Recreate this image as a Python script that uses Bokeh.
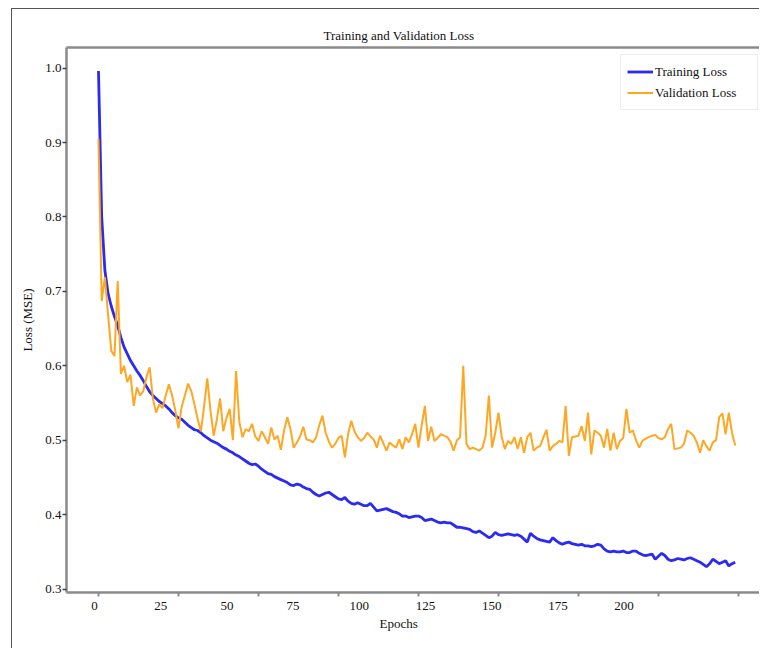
from bokeh.plotting import figure
from bokeh.models import FixedTicker, Title, Range1d, LinearAxis
from bokeh.embed import file_html
from bokeh.resources import INLINE

epochs = list(range(200))

train_loss = [
    0.996, 0.800, 0.728, 0.697, 0.680, 0.666, 0.654, 0.638, 0.625, 0.616,
    0.607, 0.600, 0.593, 0.587, 0.580, 0.572, 0.565, 0.560, 0.556, 0.552,
    0.549, 0.546, 0.542, 0.537, 0.533, 0.530, 0.528, 0.524, 0.520, 0.517,
    0.514, 0.513, 0.510, 0.506, 0.503, 0.500, 0.498, 0.496, 0.493, 0.490,
    0.488, 0.485, 0.483, 0.480, 0.478, 0.475, 0.472, 0.469, 0.467, 0.468,
    0.465, 0.461, 0.458, 0.455, 0.454, 0.451, 0.449, 0.447, 0.445, 0.443,
    0.440, 0.439, 0.441, 0.440, 0.437, 0.435, 0.434, 0.430, 0.427, 0.425,
    0.427, 0.429, 0.430, 0.427, 0.424, 0.421, 0.420, 0.423, 0.418, 0.415,
    0.414, 0.416, 0.414, 0.412, 0.412, 0.415, 0.410, 0.405, 0.406, 0.407,
    0.408, 0.406, 0.404, 0.403, 0.401, 0.398, 0.398, 0.396, 0.397, 0.398,
    0.398, 0.396, 0.392, 0.393, 0.394, 0.392, 0.390, 0.389, 0.390, 0.389,
    0.389, 0.386, 0.383, 0.383, 0.382, 0.381, 0.380, 0.377, 0.376, 0.378,
    0.375, 0.372, 0.369, 0.371, 0.376, 0.373, 0.372, 0.373, 0.374, 0.373,
    0.372, 0.373, 0.371, 0.367, 0.363, 0.375, 0.371, 0.368, 0.366, 0.365,
    0.364, 0.363, 0.369, 0.365, 0.362, 0.360, 0.362, 0.363, 0.361, 0.360,
    0.359, 0.360, 0.358, 0.358, 0.357, 0.358, 0.360, 0.359, 0.354, 0.351,
    0.350, 0.351, 0.350, 0.350, 0.351, 0.349, 0.349, 0.351, 0.351, 0.348,
    0.346, 0.345, 0.346, 0.347, 0.340, 0.344, 0.348, 0.345, 0.340, 0.338,
    0.339, 0.341, 0.340, 0.339, 0.341, 0.342, 0.340, 0.338, 0.336, 0.333,
    0.330, 0.334, 0.340, 0.337, 0.334, 0.336, 0.338, 0.331, 0.334, 0.336,
]

val_loss = [
    0.905, 0.687, 0.719, 0.668, 0.620, 0.613, 0.714, 0.589, 0.600, 0.578,
    0.588, 0.546, 0.571, 0.560, 0.566, 0.585, 0.598, 0.556, 0.537, 0.548,
    0.543, 0.560, 0.575, 0.560, 0.540, 0.516, 0.545, 0.560, 0.576, 0.566,
    0.548, 0.528, 0.512, 0.545, 0.583, 0.540, 0.506, 0.528, 0.556, 0.512,
    0.530, 0.542, 0.500, 0.593, 0.525, 0.504, 0.515, 0.512, 0.522, 0.505,
    0.499, 0.512, 0.504, 0.495, 0.517, 0.501, 0.506, 0.487, 0.513, 0.531,
    0.515, 0.490, 0.497, 0.505, 0.518, 0.501, 0.500, 0.497, 0.504, 0.520,
    0.533, 0.510, 0.498, 0.490, 0.495, 0.503, 0.506, 0.477, 0.508, 0.526,
    0.512, 0.504, 0.499, 0.503, 0.510, 0.505, 0.501, 0.490, 0.506, 0.496,
    0.486, 0.497, 0.493, 0.490, 0.501, 0.488, 0.504, 0.497, 0.508, 0.522,
    0.490, 0.520, 0.546, 0.499, 0.518, 0.499, 0.503, 0.508, 0.506, 0.504,
    0.498, 0.486, 0.500, 0.504, 0.600, 0.495, 0.488, 0.490, 0.488, 0.486,
    0.490, 0.506, 0.560, 0.490, 0.510, 0.537, 0.505, 0.488, 0.499, 0.495,
    0.504, 0.488, 0.504, 0.483, 0.504, 0.510, 0.486, 0.490, 0.492, 0.503,
    0.514, 0.486, 0.492, 0.495, 0.499, 0.497, 0.546, 0.479, 0.504, 0.505,
    0.506, 0.519, 0.499, 0.537, 0.481, 0.513, 0.510, 0.506, 0.490, 0.515,
    0.486, 0.510, 0.488, 0.499, 0.503, 0.542, 0.510, 0.513, 0.500, 0.490,
    0.499, 0.502, 0.504, 0.506, 0.507, 0.503, 0.501, 0.504, 0.515, 0.522,
    0.488, 0.489, 0.490, 0.495, 0.513, 0.510, 0.506, 0.497, 0.483, 0.500,
    0.492, 0.486, 0.497, 0.500, 0.531, 0.536, 0.508, 0.537, 0.510, 0.493,
]

x_tick_labels = ["0", "25", "50", "75", "100", "125", "150", "175", "200"]
x_tick_marks = [0, 25, 50, 75, 100, 125, 150, 175, 200]
y_ticks = [0.3, 0.4, 0.5, 0.6, 0.7, 0.8, 0.9, 1.0]
y_tick_labels = ["0.3", "0.4", "0.5", "0.6", "0.7", "0.8", "0.9", "1.0"]

# label positions in the reference are spaced slightly tighter than the tick marks
label_pos = [round(-1.25 + 20.69 * k, 2) for k in range(len(x_tick_labels))]

SERIF = "Liberation Serif"
AXIS_GREY = "#8a8a8a"

p = figure(
    width=748, height=640,
    output_backend="svg", toolbar_location=None,
    x_range=Range1d(-10, 206.9), y_range=Range1d(0.2953, 1.0277),
    min_border_left=54, min_border_right=0, min_border_top=38, min_border_bottom=57,
    margin=(8, 0, 0, 11),
    styles={"border-left": "1px solid #555555", "border-top": "1px solid #555555"},
)
p.background_fill_color = "white"
p.border_fill_color = "white"
p.grid.visible = False
p.outline_line_color = None

p.line(epochs, train_loss, color="#2a2af2", line_width=2.8, legend_label="Training Loss")
p.line(epochs, val_loss, color="#ffa722", line_width=2, legend_label="Validation Loss")

# title
p.title.text = "Training and Validation Loss"
p.title.text_font = SERIF
p.title.text_font_size = "13px"
p.title.text_font_style = "normal"
p.title.text_color = "#111111"
p.title.align = "left"
p.title.offset = 257

# x axis (bottom)
xa = p.below[0]
xa.ticker = FixedTicker(ticks=label_pos, minor_ticks=x_tick_marks)
xa.major_label_overrides = {pos: lab for pos, lab in zip(label_pos, x_tick_labels)}
xa.major_tick_line_color = None
xa.minor_tick_line_color = AXIS_GREY
xa.minor_tick_line_width = 2
xa.minor_tick_out = 4
xa.minor_tick_in = 0
xa.axis_line_color = AXIS_GREY
xa.axis_line_width = 2.5
xa.major_label_text_font = SERIF
xa.major_label_text_font_size = "13px"
xa.major_label_text_color = "#111111"
xa.major_label_standoff = 3

# top frame line (axis line only, no ticks or labels); its tick extent lifts the title
top = LinearAxis(ticker=FixedTicker(ticks=[], minor_ticks=[]),
                 major_tick_line_color=None, minor_tick_line_color=None,
                 major_tick_out=8, major_label_text_color=None,
                 axis_line_color=AXIS_GREY, axis_line_width=2.5)
p.add_layout(top, "above")

p.add_layout(Title(text="Epochs", align="left", offset=313, text_font=SERIF,
                   text_font_size="13px", text_font_style="normal",
                   text_color="#111111", standoff=2), "below")

# y axis
ya = p.left[0]
ya.ticker = FixedTicker(ticks=y_ticks, minor_ticks=[])
ya.major_label_overrides = {t: lab for t, lab in zip(y_ticks, y_tick_labels)}
ya.major_tick_line_color = "#444444"
ya.major_tick_line_width = 1.5
ya.major_tick_out = 4
ya.major_tick_in = 0
ya.axis_line_color = AXIS_GREY
ya.axis_line_width = 2.5
ya.major_label_text_font = SERIF
ya.major_label_text_font_size = "13px"
ya.major_label_text_color = "#111111"
ya.major_label_standoff = 1
ya.axis_label = "Loss (MSE)"
ya.axis_label_text_font = SERIF
ya.axis_label_text_font_size = "13px"
ya.axis_label_text_font_style = "normal"
ya.axis_label_text_color = "#111111"
ya.axis_label_standoff = 7

# legend
lg = p.legend[0]
lg.location = (554, 482)
lg.margin = 0
lg.padding = 6
lg.spacing = 0
lg.label_height = 21
lg.glyph_height = 21
lg.glyph_width = 26
lg.label_standoff = 2
lg.label_width = 96
lg.label_text_font = SERIF
lg.label_text_font_size = "13px"
lg.label_text_color = "#111111"
lg.border_line_color = "#dcdcdc"
lg.border_line_width = 1.5
lg.background_fill_color = "white"
lg.background_fill_alpha = 1

open("out.html", "w").write(file_html(p, INLINE))
